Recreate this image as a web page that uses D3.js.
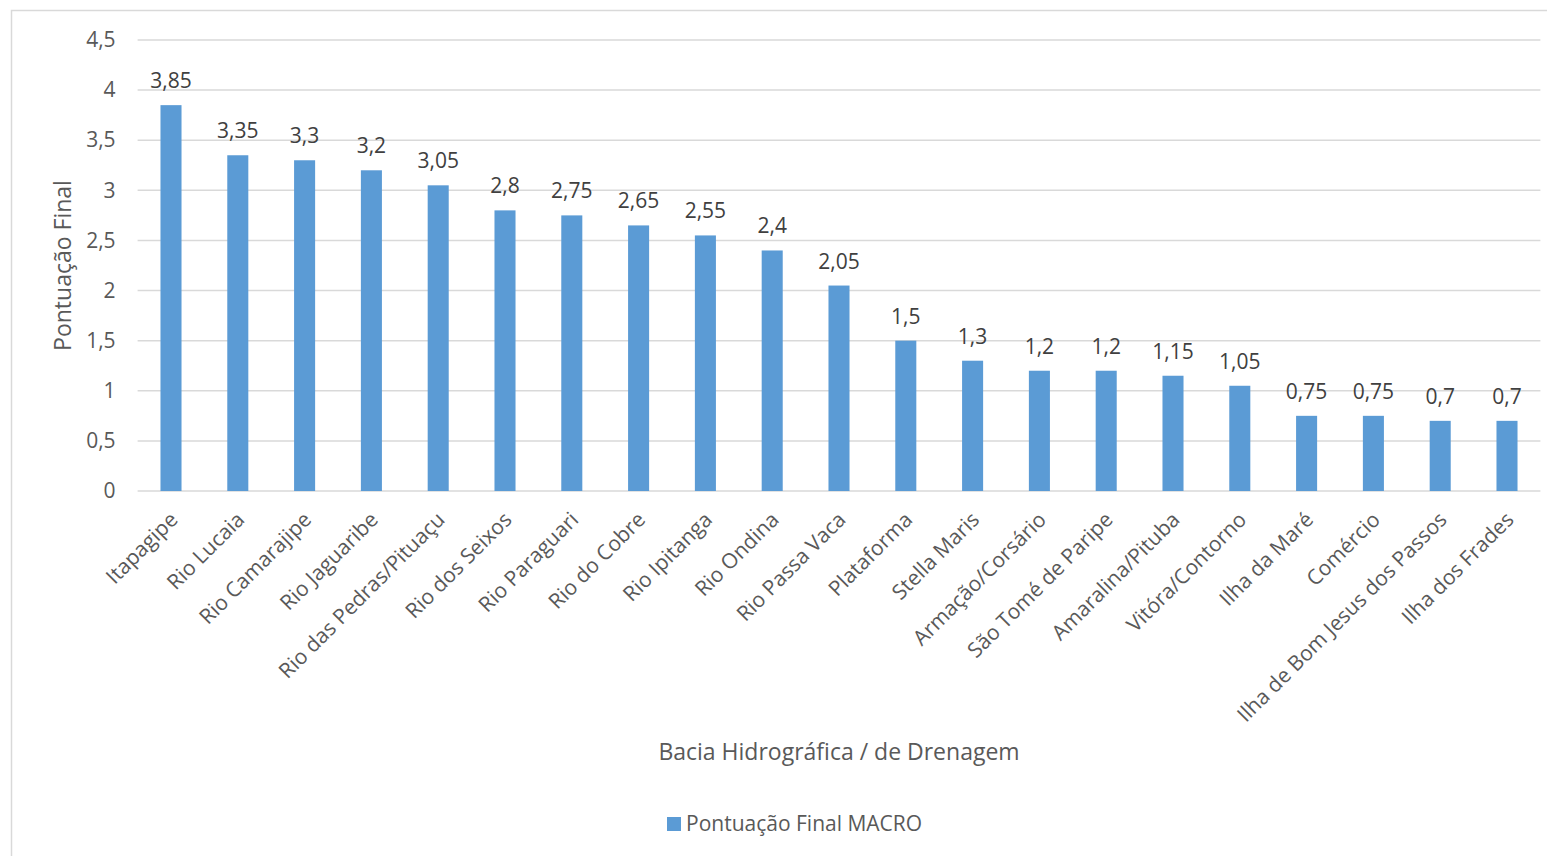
<!DOCTYPE html>
<html>
<head>
<meta charset="utf-8">
<script src="https://cdn.jsdelivr.net/npm/d3@7"></script>
<style>
  html, body { margin: 0; padding: 0; background: #fff; }
  svg { display: block; font-family: "Open Sans", "Noto Sans", sans-serif; }
</style>
</head>
<body>
<svg id="chart" width="1547" height="856"></svg>
<script>
// Bacias hidrográficas e pontuação final (MACRO)
const categories = [
  "Itapagipe", "Rio Lucaia", "Rio Camarajipe", "Rio Jaguaribe", "Rio das Pedras/Pituaçu",
  "Rio dos Seixos", "Rio Paraguari", "Rio do Cobre", "Rio Ipitanga", "Rio Ondina",
  "Rio Passa Vaca", "Plataforma", "Stella Maris", "Armação/Corsário", "São Tomé de Paripe",
  "Amaralina/Pituba", "Vitóra/Contorno", "Ilha da Maré", "Comércio",
  "Ilha de Bom Jesus dos Passos", "Ilha dos Frades"
];
const values = [3.85, 3.35, 3.3, 3.2, 3.05, 2.8, 2.75, 2.65, 2.55, 2.4, 2.05,
                1.5, 1.3, 1.2, 1.2, 1.15, 1.05, 0.75, 0.75, 0.7, 0.7];
const yTicks = [0, 0.5, 1, 1.5, 2, 2.5, 3, 3.5, 4, 4.5];
const seriesName = "Pontuação Final MACRO";
const xTitle = "Bacia Hidrográfica / de Drenagem";
const yTitle = "Pontuação Final";

const fmt = v => String(v).replace(".", ",");
const barColor = "#5B9BD5";
const textColor = "#595959";
const gridColor = "#d9d9d9";

const svg = d3.select("#chart");

// chart area frame
svg.append("rect")
  .attr("x", 11.5).attr("y", 10.5)
  .attr("width", 1560).attr("height", 880)
  .attr("fill", "none").attr("stroke", gridColor).attr("stroke-width", 1.5);

const plot = { left: 137.6, right: 1540.4, top: 40, bottom: 491 };

const x = d3.scaleBand()
  .domain(categories)
  .range([plot.left, plot.right])
  .paddingInner(0.685)
  .paddingOuter(0.3425);

const y = d3.scaleLinear().domain([0, 4.5]).range([plot.bottom, plot.top]);

// gridlines
svg.append("g")
  .selectAll("line")
  .data(yTicks)
  .join("line")
  .attr("x1", plot.left).attr("x2", plot.right)
  .attr("y1", d => y(d)).attr("y2", d => y(d))
  .attr("stroke", gridColor).attr("stroke-width", 1.5);

// y axis tick labels
const yAxis = d3.axisLeft(y).tickValues(yTicks).tickFormat(fmt).tickSize(0).tickPadding(0);
const yg = svg.append("g")
  .attr("transform", `translate(${plot.left - 22},0)`)
  .call(yAxis);
yg.select(".domain").remove();
yg.selectAll("text")
  .attr("fill", textColor)
  .style("font-size", "21px")
  .style("font-family", "'Open Sans', sans-serif");

// bars
svg.append("g")
  .selectAll("rect")
  .data(values)
  .join("rect")
  .attr("x", (d, i) => x(categories[i]))
  .attr("width", x.bandwidth())
  .attr("y", d => y(d))
  .attr("height", d => y(0) - y(d))
  .attr("fill", barColor);

// value labels
svg.append("g")
  .selectAll("text")
  .data(values)
  .join("text")
  .attr("x", (d, i) => x(categories[i]) + x.bandwidth() / 2)
  .attr("y", d => y(d) - 17)
  .attr("text-anchor", "middle")
  .attr("fill", "#404040")
  .style("font-size", "21px")
  .text(fmt);

// category labels
const xAxis = d3.axisBottom(x).tickSize(0).tickPadding(0);
const xg = svg.append("g")
  .attr("transform", `translate(0,${plot.bottom})`)
  .call(xAxis);
xg.select(".domain").remove();
xg.selectAll("text")
  .attr("fill", textColor)
  .style("font-size", "21px")
  .style("font-family", "'Open Sans', sans-serif")
  .attr("text-anchor", "end")
  .attr("dy", "0")
  .attr("transform", "translate(8,30) rotate(-45)");

// axis titles
svg.append("text")
  .attr("x", (plot.left + plot.right) / 2)
  .attr("y", 760)
  .attr("text-anchor", "middle")
  .attr("fill", textColor)
  .style("font-size", "23px")
  .text(xTitle);

svg.append("text")
  .attr("transform", `translate(71,${(plot.top + plot.bottom) / 2}) rotate(-90)`)
  .attr("text-anchor", "middle")
  .attr("fill", textColor)
  .style("font-size", "23px")
  .text(yTitle);

// legend
const lg = svg.append("g").attr("transform", "translate(667,817)");
lg.append("rect").attr("width", 14).attr("height", 14).attr("fill", barColor);
lg.append("text")
  .attr("x", 19).attr("y", 14)
  .attr("fill", textColor)
  .style("font-size", "21px")
  .text(seriesName);
</script>
</body>
</html>
